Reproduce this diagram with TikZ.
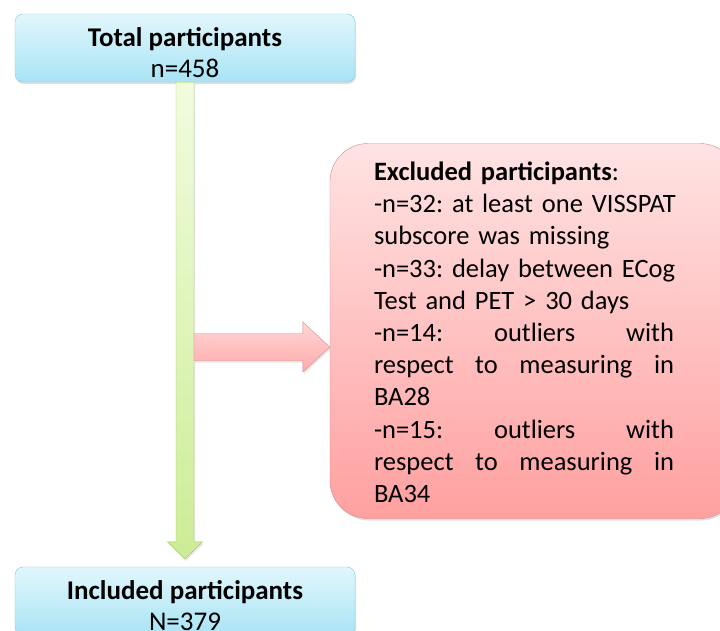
\documentclass[tikz,border=0pt]{standalone}
\usepackage{fontspec}
\setmainfont{Carlito}
\usetikzlibrary{calc,shadows}
\frenchspacing

\definecolor{bluetop}{HTML}{E2F6FC}
\definecolor{bluebot}{HTML}{A8E4F5}
\definecolor{blueline}{HTML}{7FCBE0}
\definecolor{greentop}{HTML}{F1FCDF}
\definecolor{greenbot}{HTML}{CDEC96}
\definecolor{greenline}{HTML}{9EC95C}
\definecolor{redtop}{HTML}{FFE3E3}
\definecolor{redbot}{HTML}{FFA0A0}
\definecolor{redline}{HTML}{D68A8A}

\tikzset{
  bluebox/.style={draw=blueline, rounded corners=8pt, top color=bluetop, bottom color=bluebot,
    minimum width=340pt, minimum height=68pt, align=center, inner sep=0pt, text height=60pt,
    font=\fontsize{27}{31}\selectfont,
    drop shadow={opacity=0.25, shadow xshift=1pt, shadow yshift=-2pt}},
  redbox/.style={draw=redline, rounded corners=38pt, top color=redtop, bottom color=redbot,
    minimum height=375pt, inner xsep=44pt, text width=320pt, align=left, text height=21pt,
    font=\fontsize{26.5}{32.2}\selectfont,
    drop shadow={opacity=0.25, shadow xshift=1pt, shadow yshift=-2pt}},
  greenarrow/.style={draw=greenline, top color=greentop, bottom color=greenbot,
    drop shadow={opacity=0.2, shadow xshift=1pt, shadow yshift=-2pt}},
  redarrow/.style={draw=redline, top color=redtop!80!redbot, bottom color=redbot!85!redtop,
    drop shadow={opacity=0.2, shadow xshift=1pt, shadow yshift=-2pt}}
}

% one line spread to the width of the text column
\newcommand{\spreadline}[3]{\makebox[300pt][l]{#1\hfill#2\hfill#3}}

\begin{document}
\begin{tikzpicture}[x=1pt, y=-1pt]
    \useasboundingbox (0,0) rectangle (720,630);
    \clip (0,0) rectangle (720,630);

    % Boxes
    \node[bluebox] (total) at (185,48) {\textbf{Total participants}\\n=458};
    \node[bluebox] (included) at (185,601) {\textbf{Included participants}\\N=379};
    \node[redbox] (excluded) at (534,331) {%
        \textbf{Excluded participants}:\\
        -n=32: at least one VISSPAT\\
        subscore was missing\\
        -n=33: delay between ECog\\
        Test and PET > 30 days\\
        \spreadline{-n=14:}{outliers}{with}\\
        \spreadline{respect}{to}{measuring\hfill in}\\
        BA28\\
        \spreadline{-n=15:}{outliers}{with}\\
        \spreadline{respect}{to}{measuring\hfill in}\\
        BA34};

    % Arrow from total to included
    \coordinate (tip) at ($(included.north)+(0,-8)$);
    \coordinate (shaftL) at ($(total.south)+(-9,0)$);
    \coordinate (shaftR) at ($(total.south)+(9,0)$);
    \draw[greenarrow] (shaftL) -- (shaftL |- {$(tip)+(0,-17)$}) -- ($(tip)+(-17.5,-17)$) -- (tip)
        -- ($(tip)+(17.5,-17)$) -- (shaftR |- {$(tip)+(0,-17)$}) -- (shaftR) -- cycle;

    % Arrow to excluded
    \coordinate (rtip) at ($(excluded.west)+(0,16)$);
    \coordinate (rstart) at (shaftR |- rtip);
    \draw[redarrow] ($(rstart)+(0,-13.5)$) -- ($(rtip)+(-27,-13.5)$) -- ($(rtip)+(-27,-25)$) -- (rtip)
        -- ($(rtip)+(-27,25)$) -- ($(rtip)+(-27,13.5)$) -- ($(rstart)+(0,13.5)$) -- cycle;
\end{tikzpicture}
\end{document}
